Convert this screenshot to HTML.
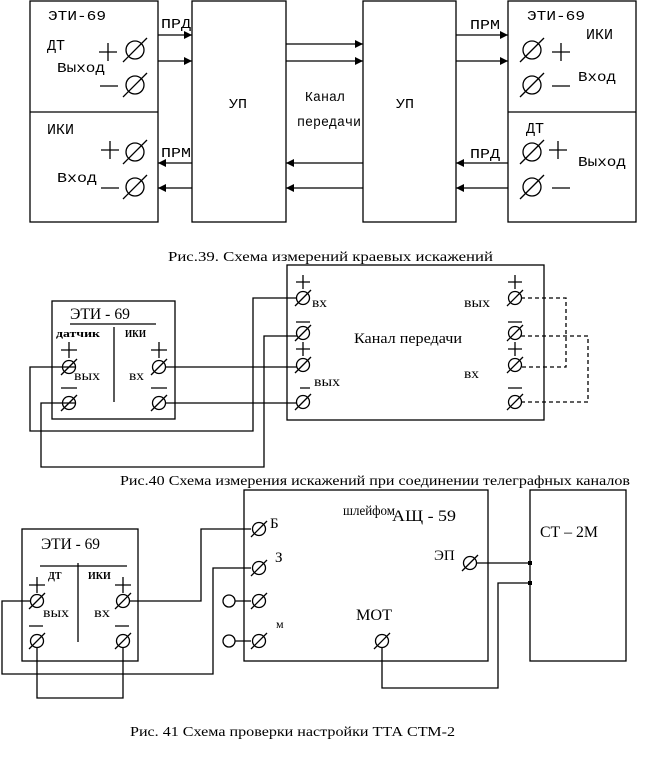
<!DOCTYPE html>
<html><head><meta charset="utf-8"><style>
body{margin:0;background:#fff}
svg{display:block}
.m{font-family:"Liberation Mono",monospace;font-size:14px}
.s{font-family:"Liberation Serif",serif;font-size:14px}
</style></head><body>
<svg width="647" height="770" viewBox="0 0 647 770" xmlns="http://www.w3.org/2000/svg" fill="none" stroke="#000" stroke-width="1.3">
<defs>
<g id="T"><circle r="9"/><line x1="-12" y1="12" x2="12" y2="-12"/></g>
<g id="t"><circle r="6.5"/><line x1="-8" y1="8" x2="8" y2="-8"/></g>
<path id="ar" d="M0 0 L-8 -4 L-8 4Z" fill="#000" stroke="none"/>
<path id="al" d="M0 0 L8 -4 L8 4Z" fill="#000" stroke="none"/>
</defs>
<!-- Fig 39 -->
<rect x="30" y="1" width="128" height="221"/><line x1="30" y1="112" x2="158" y2="112"/>
<rect x="192" y="1" width="94" height="221"/>
<rect x="363" y="1" width="93" height="221"/>
<rect x="508" y="1" width="128" height="221"/><line x1="508" y1="112" x2="636" y2="112"/>
<g>
<line x1="158" y1="35" x2="192" y2="35"/><line x1="158" y1="61" x2="192" y2="61"/>
<line x1="158" y1="163" x2="192" y2="163"/><line x1="158" y1="188" x2="192" y2="188"/>
<line x1="286" y1="44" x2="363" y2="44"/><line x1="286" y1="61" x2="363" y2="61"/>
<line x1="286" y1="163" x2="363" y2="163"/><line x1="286" y1="188" x2="363" y2="188"/>
<line x1="456" y1="35" x2="508" y2="35"/><line x1="456" y1="61" x2="508" y2="61"/>
<line x1="456" y1="163" x2="508" y2="163"/><line x1="456" y1="188" x2="508" y2="188"/>
</g>
<use href="#ar" x="192" y="35"/><use href="#ar" x="192" y="61"/>
<use href="#al" x="158" y="163"/><use href="#al" x="158" y="188"/>
<use href="#ar" x="363" y="44"/><use href="#ar" x="363" y="61"/>
<use href="#al" x="286" y="163"/><use href="#al" x="286" y="188"/>
<use href="#ar" x="508" y="35"/><use href="#ar" x="508" y="61"/>
<use href="#al" x="456" y="163"/><use href="#al" x="456" y="188"/>
<use href="#T" x="135" y="50"/><use href="#T" x="135" y="85"/><use href="#T" x="135" y="152"/><use href="#T" x="135" y="187"/>
<use href="#T" x="532" y="50"/><use href="#T" x="532" y="85"/><use href="#T" x="532" y="152"/><use href="#T" x="532" y="187"/>
<path d="M99 52h18M108 43v18M100 86h18M101 150h18M110 141v18M101 188h18"/>
<path d="M552 52h18M561 43v18M552 86h18M549 150h18M558 141v18M552 188h18"/>
<g fill="#000" stroke="none" class="m" lengthAdjust="spacingAndGlyphs">
<text x="48" y="20" textLength="58" lengthAdjust="spacingAndGlyphs">ЭТИ-69</text><text x="47" y="50" font-size="15">ДТ</text><text x="57" y="72" textLength="48" lengthAdjust="spacingAndGlyphs">Выход</text>
<text x="47" y="134" font-size="15">ИКИ</text><text x="57" y="182" textLength="40" lengthAdjust="spacingAndGlyphs">Вход</text>
<text x="161" y="28" textLength="30" lengthAdjust="spacingAndGlyphs">ПРД</text><text x="161" y="157" textLength="30" lengthAdjust="spacingAndGlyphs">ПРМ</text>
<text x="229" y="108" textLength="18" lengthAdjust="spacingAndGlyphs">УП</text><text x="305" y="101" textLength="40" lengthAdjust="spacingAndGlyphs">Канал</text><text x="297" y="126" textLength="64" lengthAdjust="spacingAndGlyphs">передачи</text>
<text x="396" y="108" textLength="18" lengthAdjust="spacingAndGlyphs">УП</text><text x="470" y="29" textLength="30" lengthAdjust="spacingAndGlyphs">ПРМ</text><text x="470" y="158" textLength="30" lengthAdjust="spacingAndGlyphs">ПРД</text>
<text x="527" y="20" textLength="58" lengthAdjust="spacingAndGlyphs">ЭТИ-69</text><text x="586" y="39" font-size="15">ИКИ</text><text x="578" y="81" textLength="38" lengthAdjust="spacingAndGlyphs">Вход</text>
<text x="526" y="133" font-size="15">ДТ</text><text x="578" y="166" textLength="48" lengthAdjust="spacingAndGlyphs">Выход</text>
</g>
<text class="s" x="168" y="261" fill="#000" stroke="none" textLength="325" lengthAdjust="spacingAndGlyphs">Рис.39. Схема измерений краевых искажений</text>
<!-- Fig 40 -->
<rect x="52" y="301" width="123" height="118"/>
<line x1="70" y1="324" x2="156" y2="324"/><line x1="114" y1="327" x2="114" y2="402"/>
<rect x="287" y="265" width="257" height="155"/>
<path d="M75 367H30V431H253V298H297M75 403H41V467H264V336H297M165 367H297M165 403H297"/>
<path d="M521 298H566V367H521M521 336H588V402H521" stroke-dasharray="4 3"/>
<use href="#t" x="69" y="367"/><use href="#t" x="69" y="403"/><use href="#t" x="159" y="367"/><use href="#t" x="159" y="403"/>
<use href="#t" x="303" y="298"/><use href="#t" x="303" y="333"/><use href="#t" x="303" y="365"/><use href="#t" x="303" y="402"/>
<use href="#t" x="515" y="298"/><use href="#t" x="515" y="333"/><use href="#t" x="515" y="365"/><use href="#t" x="515" y="402"/>
<path d="M61 350h16M69 342v16M61 388h16M151 350h16M159 342v16M151 388h16"/>
<path d="M296 282h14M303 275v14M296 322h14M296 349h14M303 342v14M300 388h10"/>
<path d="M508 282h14M515 275v14M508 322h14M508 349h14M515 342v14M508 388h14"/>
<g fill="#000" stroke="none" class="s">
<text x="70" y="319" font-size="16" textLength="60" lengthAdjust="spacingAndGlyphs">ЭТИ - 69</text>
<text x="56" y="337" font-size="10" font-weight="bold" textLength="44" lengthAdjust="spacingAndGlyphs">датчик</text><text x="125" y="337" font-size="10" font-weight="bold" textLength="21" lengthAdjust="spacingAndGlyphs">ИКИ</text>
<text x="74" y="380" textLength="26" lengthAdjust="spacingAndGlyphs">вых</text><text x="129" y="380" textLength="15" lengthAdjust="spacingAndGlyphs">вх</text>
<text x="312" y="307" textLength="15" lengthAdjust="spacingAndGlyphs">вх</text><text x="314" y="386" textLength="26" lengthAdjust="spacingAndGlyphs">вых</text>
<text x="354" y="343" font-size="15" textLength="108" lengthAdjust="spacingAndGlyphs">Канал передачи</text>
<text x="464" y="307" textLength="26" lengthAdjust="spacingAndGlyphs">вых</text><text x="464" y="378" textLength="15" lengthAdjust="spacingAndGlyphs">вх</text>
<text x="120" y="485" textLength="510" lengthAdjust="spacingAndGlyphs">Рис.40 Схема измерения искажений при соединении телеграфных каналов</text>
</g>
<!-- Fig 41 -->
<rect x="22" y="529" width="116" height="132"/>
<line x1="40" y1="566" x2="127" y2="566"/><line x1="78" y1="563" x2="78" y2="642"/>
<rect x="244" y="490" width="244" height="171"/>
<rect x="530" y="490" width="96" height="171"/>
<path d="M31 601H2V674H213V568H251M129 601H201V529H251M37 647V698H123V647"/>
<path d="M235 601H251M235 641H251"/><circle cx="229" cy="601" r="6"/><circle cx="229" cy="641" r="6"/>
<path d="M476 563H530M382 647V688H498V583H530"/>
<rect x="528" y="561" width="4" height="4" fill="#000" stroke="none"/><rect x="528" y="581" width="4" height="4" fill="#000" stroke="none"/>
<use href="#t" x="37" y="601"/><use href="#t" x="37" y="641"/><use href="#t" x="123" y="601"/><use href="#t" x="123" y="641"/>
<use href="#t" x="259" y="529"/><use href="#t" x="259" y="568"/><use href="#t" x="259" y="601"/><use href="#t" x="259" y="641"/>
<use href="#t" x="470" y="563"/><use href="#t" x="382" y="641"/>
<path d="M29 585h16M37 577v16M29 626h14M115 585h16M123 577v16M115 626h14"/>
<g fill="#000" stroke="none" class="s">
<text x="41" y="549" font-size="16" textLength="59" lengthAdjust="spacingAndGlyphs">ЭТИ - 69</text>
<text x="48" y="579" font-size="10" font-weight="bold">ДТ</text><text x="88" y="579" font-size="10" font-weight="bold">ИКИ</text>
<text x="43" y="617" textLength="26" lengthAdjust="spacingAndGlyphs">вых</text><text x="94" y="617" textLength="16" lengthAdjust="spacingAndGlyphs">вх</text>
<text x="270" y="528" font-size="15">Б</text><text x="275" y="562" font-size="15">З</text><text x="276" y="628" font-size="12">м</text>
<text x="343" y="515" textLength="52" lengthAdjust="spacingAndGlyphs">шлейфом</text><text x="392" y="521" font-size="16" textLength="64" lengthAdjust="spacingAndGlyphs">АЩ - 59</text>
<text x="434" y="560" font-size="15">ЭП</text><text x="356" y="620" font-size="16" textLength="36" lengthAdjust="spacingAndGlyphs">МОТ</text>
<text x="540" y="537" font-size="16" textLength="58" lengthAdjust="spacingAndGlyphs">СТ – 2М</text>
<text x="130" y="736" textLength="325" lengthAdjust="spacingAndGlyphs">Рис. 41 Схема проверки настройки ТТА СТМ-2</text>
</g>
</svg>
</body></html>
